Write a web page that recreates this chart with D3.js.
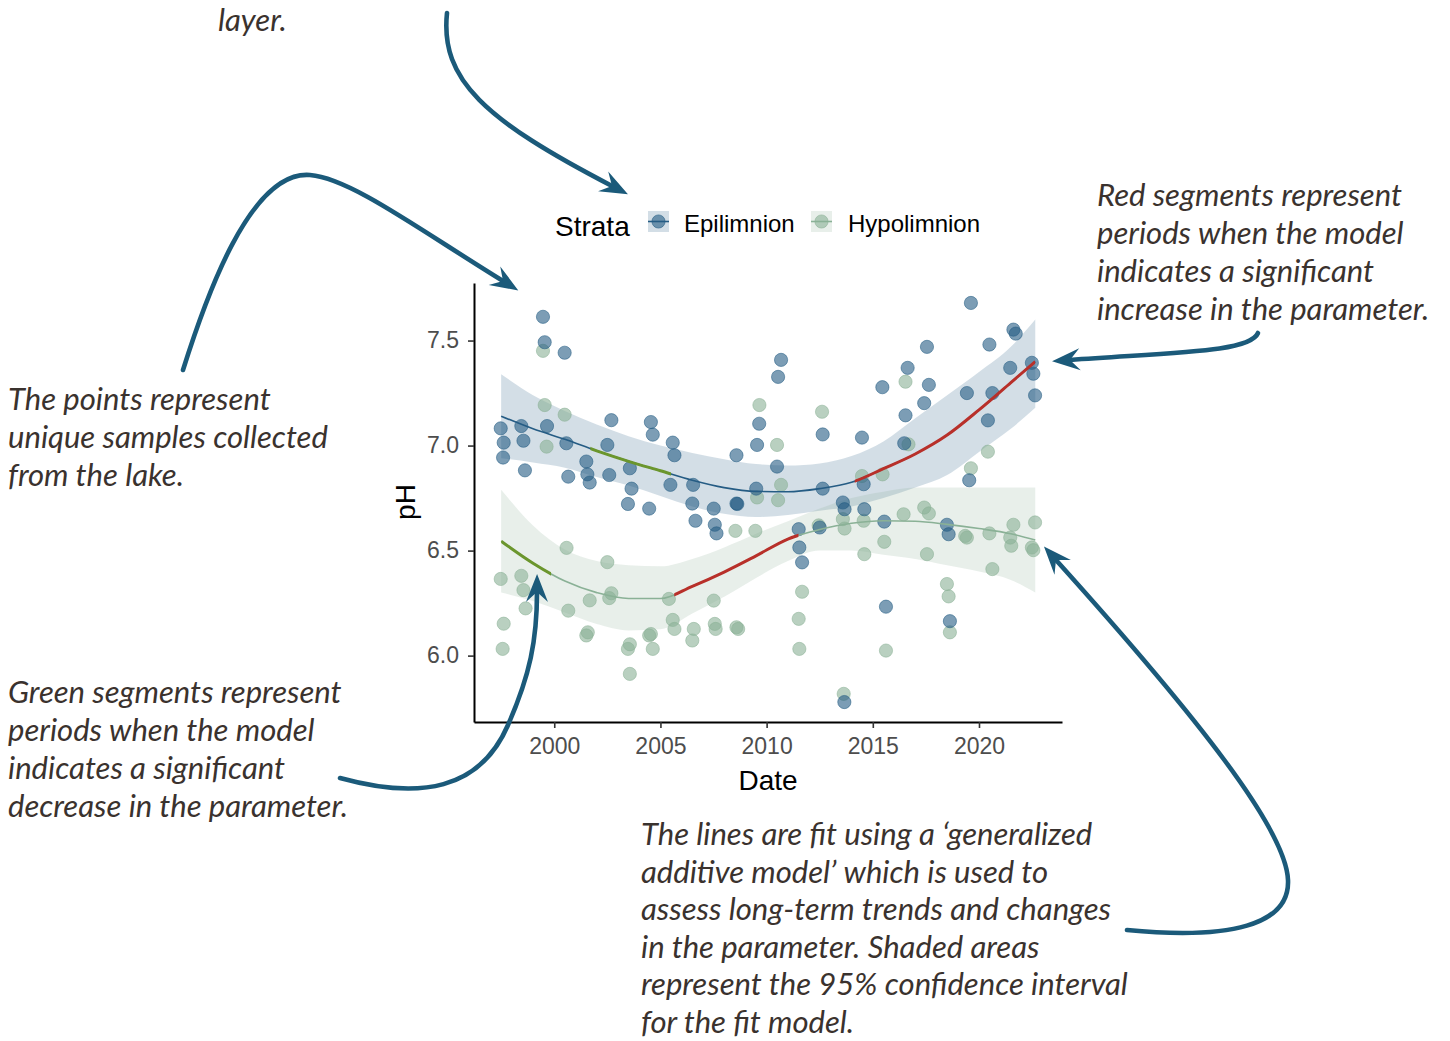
<!DOCTYPE html>
<html>
<head>
<meta charset="utf-8">
<script src="https://cdn.jsdelivr.net/npm/d3@7"></script>
<style>
  body { margin: 0; background: #fff; }
  svg { display: block; }
</style>
</head>
<body>
<svg id="chart" width="1450" height="1041"></svg>
<script>
// ---- Samples: decimal year and pH, one array pair per stratum ----
const epiYear = [1999.47, 1999.55, 2000.49, 1997.48, 1998.45, 1999.66, 1997.62, 1998.55, 2000.57, 1997.59,
  1998.62, 2002.69, 2002.50, 2001.51, 2001.56, 2000.66, 2001.67, 2002.59, 2004.55, 2004.64,
  2003.56, 2003.64, 2003.47, 2004.47, 2005.58, 2005.66, 2005.47, 2006.54, 2006.50, 2006.65,
  2007.51, 2007.56, 2007.64, 2008.58, 2008.62, 2008.58, 2009.55, 2009.65, 2010.68, 2010.54,
  2010.49, 2009.51, 2012.64, 2012.64, 2011.51, 2011.54, 2011.67, 2012.50, 2013.59, 2013.67,
  2013.66, 2014.49, 2014.57, 2014.60, 2015.54, 2015.45, 2016.64, 2016.54, 2016.48, 2017.55,
  2017.64, 2017.42, 2018.49, 2018.57, 2018.63, 2015.62, 2019.62, 2019.43, 2019.54, 2020.49,
  2020.63, 2020.42, 2021.47, 2021.62, 2021.73, 2022.49, 2022.56, 2022.64];
const epiPH = [7.613, 7.492, 7.442, 7.082, 7.093, 7.093, 7.014, 7.023, 7.011, 6.943,
  6.882, 7.121, 7.003, 6.924, 6.863, 6.852, 6.824, 6.860, 7.112, 7.052,
  6.892, 6.795, 6.722, 6.700, 7.014, 6.954, 6.813, 6.813, 6.724, 6.642,
  6.700, 6.623, 6.582, 6.724, 6.722, 6.954, 7.003, 7.104, 7.408, 7.327,
  6.900, 6.795, 7.053, 6.795, 6.602, 6.515, 6.444, 6.610, 6.729, 6.697,
  5.779, 7.038, 6.816, 6.697, 6.638, 7.278, 7.370, 7.144, 7.011, 7.470,
  7.289, 7.202, 6.623, 6.578, 6.164, 6.233, 7.679, 7.250, 6.835, 7.481,
  7.250, 7.120, 7.370, 7.552, 7.533, 7.394, 7.342, 7.239];

const hypoYear = [1999.47, 1999.55, 2000.49, 1999.64, 2000.58, 2002.50, 1997.48, 1998.45, 1998.55, 1998.65,
  2000.66, 2001.67, 2002.59, 2002.69, 2005.40, 1997.62, 1997.57, 2001.51, 2001.58, 2003.47,
  2003.56, 2004.47, 2004.55, 2004.64, 2003.56, 2005.58, 2005.66, 2006.57, 2006.50, 2007.51,
  2007.56, 2007.60, 2008.58, 2008.66, 2009.55, 2010.54, 2008.53, 2009.47, 2011.67, 2011.51,
  2011.54, 2012.45, 2013.59, 2013.67, 2013.63, 2009.66, 2012.61, 2010.49, 2010.68, 2016.54,
  2016.68, 2020.42, 2019.62, 2014.49, 2015.46, 2014.57, 2016.45, 2017.42, 2017.64, 2015.54,
  2014.60, 2017.55, 2019.43, 2019.35, 2020.49, 2021.62, 2021.47, 2021.52, 2022.64, 2022.49,
  2022.56, 2020.63, 2018.49, 2018.57, 2018.63, 2015.62];
const hypoPH = [7.451, 7.193, 7.147, 6.995, 6.513, 6.445, 6.365, 6.380, 6.312, 6.225,
  6.214, 6.263, 6.274, 6.297, 6.270, 6.152, 6.032, 6.096, 6.111, 6.032,
  6.054, 6.096, 6.103, 6.032, 5.913, 6.170, 6.127, 6.127, 6.072, 6.262,
  6.151, 6.127, 6.135, 6.127, 6.753, 6.740, 6.594, 6.594, 6.304, 6.175,
  6.032, 6.620, 6.650, 6.605, 5.818, 7.193, 7.161, 7.003, 6.813, 7.304,
  7.006, 6.971, 6.892, 6.855, 6.863, 6.642, 6.673, 6.705, 6.677, 6.542,
  6.483, 6.483, 6.562, 6.570, 6.582, 6.623, 6.562, 6.523, 6.634, 6.515,
  6.502, 6.412, 6.341, 6.282, 6.111, 6.024];

// ---- GAM fit and 95% confidence band on a common year grid ----
const fitYear   = [1997.5, 1999, 2000.5, 2002, 2003.5, 2005, 2006.5, 2008, 2009.5, 2011, 2012.5, 2014, 2015.5, 2017, 2018.5, 2020, 2021.5, 2022.65];
const epiFit    = [7.14, 7.08, 7.03, 6.975, 6.925, 6.88, 6.835, 6.80, 6.782, 6.78, 6.795, 6.825, 6.89, 6.96, 7.05, 7.17, 7.30, 7.40];
const epiUpper  = [7.34, 7.24, 7.165, 7.10, 7.045, 7.00, 6.965, 6.935, 6.912, 6.905, 6.915, 6.95, 7.02, 7.13, 7.24, 7.35, 7.47, 7.60];
const epiLower  = [6.94, 6.92, 6.895, 6.85, 6.81, 6.76, 6.71, 6.675, 6.66, 6.67, 6.69, 6.71, 6.75, 6.80, 6.86, 6.97, 7.08, 7.18];
const hypoFit   = [6.545, 6.44, 6.355, 6.30, 6.272, 6.272, 6.33, 6.398, 6.475, 6.555, 6.60, 6.63, 6.642, 6.64, 6.625, 6.605, 6.58, 6.55];
const hypoUpper = [6.79, 6.62, 6.505, 6.45, 6.43, 6.425, 6.46, 6.515, 6.58, 6.64, 6.70, 6.75, 6.78, 6.80, 6.80, 6.80, 6.80, 6.80];
const hypoLower = [6.30, 6.26, 6.205, 6.15, 6.12, 6.125, 6.20, 6.28, 6.37, 6.45, 6.50, 6.50, 6.48, 6.46, 6.43, 6.40, 6.36, 6.30];

// ---- Periods where the fitted trend changes significantly [start, end] ----
const epiDecrease  = [[2001.7, 2005.5]];
const epiIncrease  = [[2014.15, 2022.65]];
const hypoDecrease = [[1997.5, 1999.85]];
const hypoIncrease = [[2005.65, 2011.5]];

const xTicks = [2000, 2005, 2010, 2015, 2020];
const yTicks = [6.0, 6.5, 7.0, 7.5];
const strata = ["Epilimnion", "Hypolimnion"];

// ---- Styling ----
const colEpi = "#255c84", colHypo = "#8ab196";
const colDown = "#6b962d", colUp = "#b8302a";
const colArrow = "#1b5a7a", colNote = "#3a322e";
const sans = "'Liberation Sans', Arial, sans-serif";

const svg = d3.select("#chart");
const plot = { left: 474, right: 1062, top: 283, bottom: 722 };

// ggplot-style 5% expansion around the data range
function expand([a, b]) { const m = (b - a) * 0.05; return [a - m, b + m]; }
const x = d3.scaleLinear()
  .domain(expand(d3.extent(epiYear.concat(hypoYear, fitYear))))
  .range([plot.left, plot.right]);
const y = d3.scaleLinear()
  .domain(expand(d3.extent(epiPH.concat(hypoPH, epiUpper, hypoLower))))
  .range([plot.bottom, plot.top]);

const grid = fitYear.map((yr, i) => ({ yr, i }));
const area = (lo, hi) => d3.area().x(d => x(d.yr)).y0(d => y(lo[d.i])).y1(d => y(hi[d.i])).curve(d3.curveMonotoneX);
const line = fit => d3.line().x(d => x(d.yr)).y(d => y(fit[d.i])).curve(d3.curveMonotoneX);

const series = [
  { name: "epi", col: colEpi, yr: epiYear, ph: epiPH, fit: epiFit, lo: epiLower, hi: epiUpper, down: epiDecrease, up: epiIncrease },
  { name: "hypo", col: colHypo, yr: hypoYear, ph: hypoPH, fit: hypoFit, lo: hypoLower, hi: hypoUpper, down: hypoDecrease, up: hypoIncrease }
];

const g = svg.append("g");

// confidence bands
series.forEach(s => {
  g.append("path").attr("d", area(s.lo, s.hi)(grid))
    .attr("fill", s.col).attr("fill-opacity", 0.2);
});

// sample points
series.slice().reverse().forEach(s => {
  g.append("g").selectAll("circle")
    .data(s.yr.map((yr, i) => ({ yr, ph: s.ph[i] })))
    .join("circle")
    .attr("cx", d => x(d.yr)).attr("cy", d => y(d.ph)).attr("r", 6.6)
    .attr("fill", s.col).attr("fill-opacity", 0.6)
    .attr("stroke", s.col).attr("stroke-opacity", 0.55).attr("stroke-width", 1);
});

// fitted lines, with significant periods re-drawn in colour
const defs = svg.append("defs");
let clipId = 0;
series.forEach(s => {
  g.append("path").attr("d", line(s.fit)(grid))
    .attr("fill", "none").attr("stroke", s.col).attr("stroke-width", 1.6);
  [[s.down, colDown], [s.up, colUp]].forEach(([periods, col]) => {
    periods.forEach(([a, b]) => {
      const id = "seg" + (clipId++);
      defs.append("clipPath").attr("id", id).append("rect")
        .attr("x", x(a)).attr("width", x(b) - x(a))
        .attr("y", plot.top - 20).attr("height", plot.bottom - plot.top + 40);
      g.append("path").attr("d", line(s.fit)(grid))
        .attr("clip-path", `url(#${id})`)
        .attr("fill", "none").attr("stroke", col).attr("stroke-width", 3);
    });
  });
});

// axes
const yAxis = svg.append("g").attr("transform", `translate(${plot.left},0)`)
  .call(d3.axisLeft(y).tickValues(yTicks).tickFormat(d3.format(".1f")).tickSize(6).tickPadding(9).tickSizeOuter(0));
const xAxis = svg.append("g").attr("transform", `translate(0,${plot.bottom})`)
  .call(d3.axisBottom(x).tickValues(xTicks).tickFormat(d3.format("d")).tickSize(6).tickPadding(10).tickSizeOuter(0));
[yAxis, xAxis].forEach(ax => {
  ax.select(".domain").attr("stroke", "#000").attr("stroke-width", 2);
  ax.selectAll(".tick line").attr("stroke", "#333").attr("stroke-width", 1.6);
  ax.selectAll(".tick text").attr("fill", "#4d4d4d").style("font-family", sans).style("font-size", "23px");
});

svg.append("text").attr("transform", "translate(415,502) rotate(-90)")
  .attr("text-anchor", "middle").style("font-family", sans).style("font-size", "28px").attr("fill", "#000").text("pH");
svg.append("text").attr("x", (plot.left + plot.right) / 2).attr("y", 790)
  .attr("text-anchor", "middle").style("font-family", sans).style("font-size", "28px").attr("fill", "#000").text("Date");

// legend
const legend = svg.append("g");
legend.append("text").attr("x", 555).attr("y", 236).style("font-family", sans).style("font-size", "28px").attr("fill", "#000").text("Strata");
const keyX = [648, 811], labelX = [684, 848];
series.forEach((s, i) => {
  const k = legend.append("g").attr("transform", `translate(${keyX[i]},211)`);
  k.append("rect").attr("width", 21).attr("height", 21).attr("fill", s.col).attr("fill-opacity", 0.2);
  k.append("circle").attr("cx", 10.5).attr("cy", 10.5).attr("r", 6.6)
    .attr("fill", s.col).attr("fill-opacity", 0.6).attr("stroke", s.col).attr("stroke-opacity", 0.55);
  k.append("line").attr("x1", 0).attr("x2", 21).attr("y1", 10.5).attr("y2", 10.5).attr("stroke", s.col).attr("stroke-width", 1.6);
  legend.append("text").attr("x", labelX[i]).attr("y", 232).style("font-family", sans).style("font-size", "24px").attr("fill", "#000").text(strata[i]);
});

// ---- annotations ----
const notes = [
  { x: 218, y: 31, step: 38.1, lines: ["layer."] },
  { x: 1097, y: 206, step: 38.1, lines: ["Red segments represent", "periods when the model", "indicates a significant", "increase in the parameter."] },
  { x: 8, y: 410, step: 38.1, lines: ["The points represent", "unique samples collected", "from the lake."] },
  { x: 8, y: 703, step: 38.1, lines: ["Green segments represent", "periods when the model", "indicates a significant", "decrease in the parameter."] },
  { x: 641, y: 845, step: 37.6, lines: ["The lines are fit using a \u2018generalized", "additive model\u2019 which is used to", "assess long-term trends and changes", "in the parameter. Shaded areas", "represent the 95% confidence interval", "for the fit model."] }
];
const noteFont = "Lato, 'Open Sans', sans-serif";
// size the annotation type so the confidence-interval line runs 487px
const probe = svg.append("text").style("font-family", noteFont).style("font-style", "italic").style("font-size", "100px")
  .text("represent the 95% confidence interval");
const noteSize = 100 * 487 / probe.node().getComputedTextLength();
probe.remove();
notes.forEach(n => {
  const t = svg.append("text").style("font-family", noteFont).style("font-style", "italic")
    .style("font-size", noteSize + "px").attr("fill", colNote);
  n.lines.forEach((l, i) => t.append("tspan").attr("x", n.x).attr("y", n.y + i * n.step).text(l));
});

// curved arrows ending in a dart-shaped head
const arrows = [
  "M447,13 C440,80 485,120 612,186",
  "M183,370 C205,300 250,170 310,175 C350,178 420,230 503,281",
  "M1258,333 C1250,352 1180,352 1070,360",
  "M340,778 C420,800 480,790 508,725 C530,675 537,640 537,592",
  "M1127,930 C1230,940 1290,925 1288,880 C1286,830 1200,720 1056,560"
];
const arrowG = svg.append("g");
arrows.forEach(d => {
  const p = arrowG.append("path").attr("d", d).attr("fill", "none")
    .attr("stroke", colArrow).attr("stroke-width", 4.6).attr("stroke-linecap", "round");
  const node = p.node(), L = node.getTotalLength();
  const e = node.getPointAtLength(L), b = node.getPointAtLength(L - 4);
  const ang = Math.atan2(e.y - b.y, e.x - b.x) * 180 / Math.PI;
  arrowG.append("path")
    .attr("d", "M18,0 L-10,-11 L0,0 L-10,11 Z")
    .attr("transform", `translate(${e.x},${e.y}) rotate(${ang})`)
    .attr("fill", colArrow);
});
</script>
</body>
</html>
